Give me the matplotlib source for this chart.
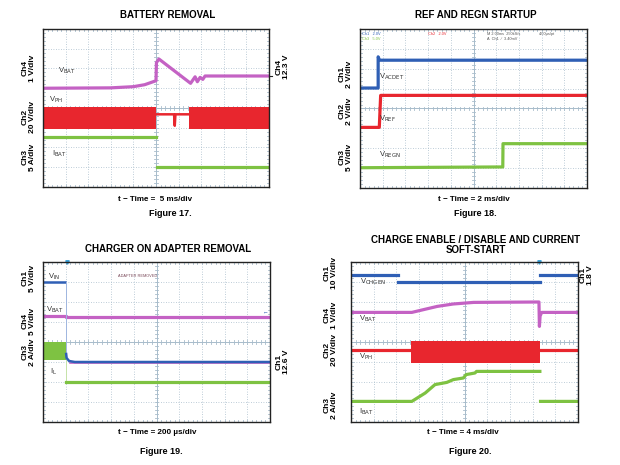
import numpy as np
import matplotlib
matplotlib.use("Agg")
import matplotlib.pyplot as plt

plt.rcParams['font.family'] = ['Liberation Sans', 'DejaVu Sans']

W, H = 620, 465

# ---------------- DATOS (en divisiones de pantalla: x 0..10, y 0..8) ----------------
# Figure 17 - battery removal
f17_vbat_x = [0, 3.0, 4.0, 4.5, 4.8, 5.0, 5.02, 5.13, 6.53, 6.73, 6.83, 6.95, 7.07, 7.17, 10]
f17_vbat_y = [5.0, 5.02, 5.08, 5.18, 5.3, 5.38, 6.3, 6.48, 5.25, 5.58, 5.33, 5.55, 5.45, 5.62, 5.62]
f17_vph_band = [(0, 5.0, 2.95, 4.05), (6.46, 10, 2.95, 4.05)]
f17_vph_x = [5.0, 5.8, 5.83, 5.86, 6.46]
f17_vph_y = [3.68, 3.68, 3.1, 3.68, 3.68]
f17_ibat_x = [0, 5.0, np.nan, 5.04, 10]
f17_ibat_y = [2.51, 2.51, np.nan, 1.01, 1.01]

# Figure 18 - REF and REGN startup
f18_vacdet_x = [0, 0.8, 0.8, 0.86, 10]
f18_vacdet_y = [5.03, 5.03, 6.6, 6.43, 6.43]
f18_vref_x = [0, 0.85, 0.91, 10]
f18_vref_y = [3.05, 3.05, 4.66, 4.66]
f18_vregn_x = [0, 6.29, 6.3, 10]
f18_vregn_y = [1.02, 1.06, 2.23, 2.23]

# Figure 19 - adapter removal
f19_vin_x = [0, 0.99]
f19_vin_y = [7.0, 7.0]
f19_vin2_x = [1.02, 1.04, 1.15, 1.4, 10]
f19_vin2_y = [3.4, 3.2, 3.05, 3.0, 3.0]
f19_vbat_x = [0, 1.0, 1.0, 10]
f19_vbat_y = [5.32, 5.32, 5.24, 5.24]
f19_il_band = (0, 1.0, 3.1, 4.02)
f19_il_x = [1.02, 10]
f19_il_y = [2.0, 2.0]

# Figure 20 - charge enable / disable
f20_chgen_seg = [([0, 2.06], [7.33, 7.33]), ([2.06, 8.32], [7.0, 7.0]), ([8.34, 10], [7.33, 7.33])]
f20_vbat_x = [0, 2.68, 3.2, 3.8, 4.5, 5.4, 8.28, 8.3, 8.33, 8.4, 10]
f20_vbat_y = [5.48, 5.48, 5.62, 5.78, 5.9, 5.98, 6.0, 4.78, 5.3, 5.48, 5.48]
f20_vph_x = [0, 2.65, np.nan, 8.32, 10]
f20_vph_y = [3.58, 3.58, np.nan, 3.58, 3.58]
f20_vph_band = (2.65, 8.32, 2.95, 4.03)
f20_ibat_x = [0, 2.68, 3.27, 3.70, 4.22, 4.51, 4.95, 5.07, 5.46, 5.53, 8.32, np.nan, 8.35, 10]
f20_ibat_y = [1.03, 1.03, 1.45, 1.87, 1.98, 2.12, 2.2, 2.37, 2.45, 2.53, 2.53, np.nan, 1.03, 1.03]

BLUE = '#2f5fb5'
RED = '#e8262e'
MAG = '#c462c4'
GREEN = '#7ec242'
LW = 2.3


def rect(x0, y0, x1, y1):
    return [x0 / W, 1 - y1 / H, (x1 - x0) / W, (y1 - y0) / H]


def ft(x, y, s, **kw):
    kw.setdefault('ha', 'center')
    kw.setdefault('va', 'center')
    fig.text(x / W, 1 - y / H, s, **kw)


def scope(ax):
    ax.set_xlim(0, 10)
    ax.set_ylim(0, 8)
    ax.set_xticks([])
    ax.set_yticks([])
    gc = '#a8bccb'
    for i in range(1, 10):
        ax.axvline(i, color=gc, lw=0.6, ls=(0, (1, 2)), zorder=0)
    for j in range(1, 8):
        ax.axhline(j, color=gc, lw=0.6, ls=(0, (1, 2)), zorder=0)
    ax.axvline(5, color=gc, lw=0.7, zorder=0)
    ax.axhline(4, color=gc, lw=0.7, zorder=0)
    for t in np.arange(0.2, 10, 0.2):
        ax.plot([t, t], [3.92, 4.08], color=gc, lw=0.6, zorder=0)
        ax.plot([t, t], [0, 0.1], color=gc, lw=0.6, zorder=0)
        ax.plot([t, t], [7.9, 8], color=gc, lw=0.6, zorder=0)
    for t in np.arange(0.2, 8, 0.2):
        ax.plot([4.92, 5.08], [t, t], color=gc, lw=0.6, zorder=0)
        ax.plot([0, 0.1], [t, t], color=gc, lw=0.6, zorder=0)
        ax.plot([9.9, 10], [t, t], color=gc, lw=0.6, zorder=0)
    for s in ax.spines.values():
        s.set_linewidth(1.0)
        s.set_color('#222222')


fig = plt.figure(figsize=(6.2, 4.65), dpi=100)

TS = dict(fontsize=7, fontweight='bold')
LS = dict(fontsize=5.8, fontweight='bold')
CS = dict(fontsize=6, fontweight='bold', rotation=90, linespacing=1.1)
VS = dict(fontsize=5.5, color='#333333')

# ---------------- FIGURE 17 ----------------
ax = fig.add_axes(rect(43, 29, 269, 187))
scope(ax)
ax.plot(f17_vbat_x, f17_vbat_y, color=MAG, lw=LW)
for x0, x1, b, t in f17_vph_band:
    ax.fill_between([x0, x1], b, t, color=RED, lw=0)
ax.plot(f17_vph_x, f17_vph_y, color=RED, lw=1.8)
ax.plot(f17_ibat_x, f17_ibat_y, color=GREEN, lw=LW)
ax.plot([10, 10.12], [5.62, 5.62], color='#222222', lw=0.8, clip_on=False)
ft(168, 15, 'BATTERY REMOVAL', **TS)
ft(67, 71, r'V$_{\mathrm{BAT}}$', **VS)
ft(56, 100, r'V$_{\mathrm{PH}}$', **VS)
ft(59, 154, r'I$_{\mathrm{BAT}}$', **VS)
ft(29, 68, 'Ch4\n1 V/div', **CS)
ft(29, 117, 'Ch2\n20 V/div', **CS)
ft(29, 157, 'Ch3\n5 A/div', **CS)
ft(283, 67, 'Ch4\n12.3 V', **CS)
ft(155, 199, 't \u2212 Time =  5 ms/div', **LS)
ft(170, 213, 'Figure 17.', fontsize=6.5, fontweight='bold')

# ---------------- FIGURE 18 ----------------
ax = fig.add_axes(rect(360, 29, 587, 188))
scope(ax)
ax.plot(f18_vacdet_x, f18_vacdet_y, color=BLUE, lw=LW)
ax.plot(f18_vref_x, f18_vref_y, color=RED, lw=LW)
ax.plot(f18_vregn_x, f18_vregn_y, color=GREEN, lw=LW)
ax.text(0.1, 7.85, 'Ch1   2.0V', color=BLUE, fontsize=2.8, va='top')
ax.text(0.1, 7.6, 'Ch3   5.0V', color=GREEN, fontsize=2.8, va='top')
ax.text(3.0, 7.85, 'Ch2   2.0V', color=RED, fontsize=2.8, va='top')
ax.text(5.6, 7.85, 'M 2.00ms  250kS/s', color='#555555', fontsize=2.8, va='top')
ax.text(7.9, 7.85, '4.00\u00b5s/pt', color='#555555', fontsize=2.8, va='top')
ax.text(5.6, 7.6, 'A  Ch1  \u2215  3.40mV', color='#555555', fontsize=2.8, va='top')
ft(476, 15, 'REF AND REGN STARTUP', **TS)
ft(392, 77, r'V$_{\mathrm{ACDET}}$', **VS)
ft(387, 119, r'V$_{\mathrm{REF}}$', **VS)
ft(390, 155, r'V$_{\mathrm{REGN}}$', **VS)
ft(346, 74, 'Ch1\n2 V/div', **CS)
ft(346, 111, 'Ch2\n2 V/div', **CS)
ft(346, 157, 'Ch3\n5 V/div', **CS)
ft(474, 199, 't \u2212 Time = 2 ms/div', **LS)
ft(475, 213, 'Figure 18.', fontsize=6.5, fontweight='bold')

# ---------------- FIGURE 19 ----------------
ax = fig.add_axes(rect(43, 262, 270, 422))
scope(ax)
ax.plot(f19_vbat_x, f19_vbat_y, color=MAG, lw=LW)
ax.plot([1.2, 10], [2.96, 2.96], color=MAG, lw=1.2)
ax.plot(f19_vin_x, f19_vin_y, color=BLUE, lw=1.8)
ax.plot([1.0, 1.0], [7.0, 3.4], color='#9fb6e0', lw=0.7)
ax.plot(f19_vin2_x, f19_vin2_y, color=BLUE, lw=1.8)
x0, x1, b, t = f19_il_band
ax.fill_between([x0, x1], b, t, color=GREEN, lw=0)
ax.plot([1.0, 1.0], [3.1, 2.0], color='#c6e3a8', lw=0.7)
ax.plot(f19_il_x, f19_il_y, color=GREEN, lw=LW)
ax.text(4.15, 7.3, 'ADAPTER REMOVED', color='#7a4a5a', fontsize=2.8, ha='center', va='center')
ax.plot([1.04], [8.0], marker='v', color='#3aa0d8', ms=2.5, clip_on=False)
ax.text(9.95, 5.5, '\u2190', color=BLUE, fontsize=4, ha='right', va='center')
ft(168, 249, 'CHARGER ON ADAPTER REMOVAL', **TS)
ft(54, 277, r'V$_{\mathrm{IN}}$', **VS)
ft(55, 310, r'V$_{\mathrm{BAT}}$', **VS)
ft(54, 372, r'I$_{\mathrm{L}}$', **VS)
ft(29, 278, 'Ch1\n5 V/div', **CS)
ft(29, 321, 'Ch4\n5 V/div', **CS)
ft(29, 352, 'Ch3\n2 A/div', **CS)
ft(283, 362, 'Ch1\n12.6 V', **CS)
ft(157, 432, 't \u2212 Time = 200 \u00b5s/div', **LS)
ft(161, 451, 'Figure 19.', fontsize=6.5, fontweight='bold')

# ---------------- FIGURE 20 ----------------
ax = fig.add_axes(rect(351, 262, 578, 422))
scope(ax)
for xs, ys in f20_chgen_seg:
    ax.plot(xs, ys, color=BLUE, lw=LW)
ax.plot(f20_vbat_x, f20_vbat_y, color=MAG, lw=LW)
x0, x1, b, t = f20_vph_band
ax.fill_between([x0, x1], b, t, color=RED, lw=0)
ax.plot(f20_vph_x, f20_vph_y, color=RED, lw=LW)
ax.plot(f20_ibat_x, f20_ibat_y, color=GREEN, lw=LW)
ax.plot([8.3], [8.0], marker='v', color='#3aa0d8', ms=2.5, clip_on=False)
ft(476, 240, 'CHARGE ENABLE / DISABLE AND CURRENT', **TS)
ft(476, 250, 'SOFT-START', **TS)
ft(373, 282, r'V$_{\mathrm{CHGEN}}$', **VS)
ft(368, 319, r'V$_{\mathrm{BAT}}$', **VS)
ft(366, 357, r'V$_{\mathrm{PH}}$', **VS)
ft(366, 412, r'I$_{\mathrm{BAT}}$', **VS)
ft(331, 273, 'Ch1\n10 V/div', **CS)
ft(331, 315, 'Ch4\n1 V/div', **CS)
ft(331, 350, 'Ch2\n20 V/div', **CS)
ft(331, 405, 'Ch3\n2 A/div', **CS)
ft(587, 275, 'Ch1\n1.8 V', **CS)
ft(463, 432, 't \u2212 Time = 4 ms/div', **LS)
ft(470, 451, 'Figure 20.', fontsize=6.5, fontweight='bold')

fig.savefig('out.png', dpi=100)
